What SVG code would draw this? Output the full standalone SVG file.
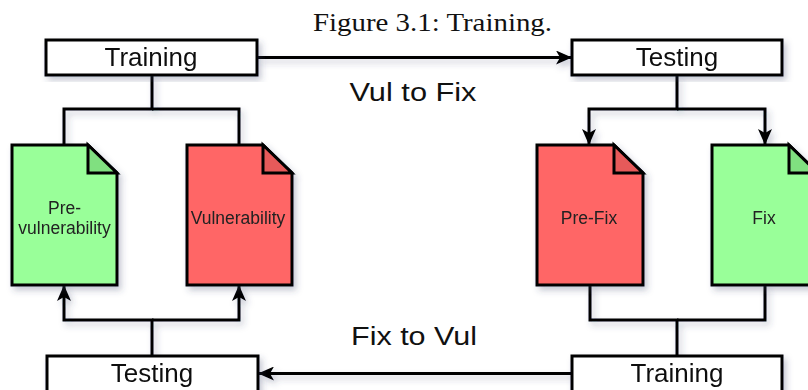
<svg xmlns="http://www.w3.org/2000/svg" width="808" height="390" viewBox="0 0 808 390">
  <defs>
    <filter id="shadow" x="-20%" y="-20%" width="140%" height="140%">
      <feDropShadow dx="3" dy="4" stdDeviation="3" flood-color="#3a3f6a" flood-opacity="0.28"/>
    </filter>
    <marker id="arrow" markerUnits="userSpaceOnUse" viewBox="0 0 16 14" refX="16" refY="7" markerWidth="16" markerHeight="14" orient="auto">
      <path d="M0,0 L16,7 L0,14 L4,7 Z" fill="#000"/>
    </marker>
    <style>
      .box { fill: #fff; stroke: #000; stroke-width: 3; }
      .lbl { font-family: "Liberation Sans", Arial, sans-serif; font-size: 26px; fill: #111; text-anchor: middle; }
      .doc-text { font-family: "Liberation Sans", Arial, sans-serif; font-size: 17.5px; fill: #222; text-anchor: middle; }
      .doc { stroke: #000; stroke-width: 3; stroke-linejoin: miter; }
      .green { fill: #99ff99; }
      .green-fold { fill: #80e080; }
      .red { fill: #ff6666; }
      .red-fold { fill: #e65a5a; }
      .edge { fill: none; stroke: #000; stroke-width: 3; }
      .caption { font-family: "Liberation Serif", "Times New Roman", serif; font-size: 25px; fill: #111; }
    </style>
  </defs>

  <rect width="808" height="390" fill="#fff"/>

  <text class="caption" x="313" y="31" textLength="239" lengthAdjust="spacingAndGlyphs">Figure 3.1: Training.</text>

  <!-- connectors -->
  <g id="connectors" filter="url(#shadow)">
    <path class="edge" d="M258,57.5 H572" marker-end="url(#arrow)"/>
    <path class="edge" d="M152,75 V109 H64 V145"/>
    <path class="edge" d="M152,109 H239 V145"/>
    <path class="edge" d="M677,75 V109 H589 V145" marker-end="url(#arrow)"/>
    <path class="edge" d="M677,109 H765 V145" marker-end="url(#arrow)"/>
    <path class="edge" d="M152,356 V320 H64 V285" marker-end="url(#arrow)"/>
    <path class="edge" d="M152,320 H239 V285" marker-end="url(#arrow)"/>
    <path class="edge" d="M590,285 V320 H677 V356"/>
    <path class="edge" d="M765,285 V320 H677"/>
    <path class="edge" d="M572,373.5 H258" marker-end="url(#arrow)"/>
  </g>

  <!-- edge labels -->
  <text class="lbl" x="413" y="101" textLength="127" lengthAdjust="spacingAndGlyphs">Vul to Fix</text>
  <text class="lbl" x="414" y="345" textLength="126" lengthAdjust="spacingAndGlyphs">Fix to Vul</text>

  <!-- top row boxes -->
  <g id="training-top" filter="url(#shadow)">
    <rect class="box" x="46" y="40" width="211" height="35"/>
    <text class="lbl" x="151" y="65.5">Training</text>
  </g>
  <g id="testing-top" filter="url(#shadow)">
    <rect class="box" x="572" y="40" width="210" height="35"/>
    <text class="lbl" x="677" y="65.5">Testing</text>
  </g>

  <!-- documents -->
  <g id="doc-pre-vulnerability" filter="url(#shadow)">
    <path class="doc green" d="M12,145 H88 L117,173 V285 H12 Z"/>
    <path class="doc green-fold" d="M88,145 V173 H117 Z"/>
    <text class="doc-text" x="64.5" y="214">Pre-</text>
    <text class="doc-text" x="64.5" y="234">vulnerability</text>
  </g>
  <g id="doc-vulnerability" filter="url(#shadow)">
    <path class="doc red" d="M187,145 H263 L292,173 V285 H187 Z"/>
    <path class="doc red-fold" d="M263,145 V173 H292 Z"/>
    <text class="doc-text" x="238" y="224">Vulnerability</text>
  </g>
  <g id="doc-pre-fix" filter="url(#shadow)">
    <path class="doc red" d="M537,145 H614 L643,173 V285 H537 Z"/>
    <path class="doc red-fold" d="M614,145 V173 H643 Z"/>
    <text class="doc-text" x="589" y="224">Pre-Fix</text>
  </g>
  <g id="doc-fix" filter="url(#shadow)">
    <path class="doc green" d="M712,145 H789 L818,173 V285 H712 Z"/>
    <path class="doc green-fold" d="M789,145 V173 H818 Z"/>
    <text class="doc-text" x="764" y="224">Fix</text>
  </g>

  <!-- bottom row boxes -->
  <g id="testing-bottom" filter="url(#shadow)">
    <rect class="box" x="47" y="356" width="211" height="36"/>
    <text class="lbl" x="152" y="381.5">Testing</text>
  </g>
  <g id="training-bottom" filter="url(#shadow)">
    <rect class="box" x="572" y="356" width="210" height="36"/>
    <text class="lbl" x="677" y="381.5">Training</text>
  </g>
</svg>
